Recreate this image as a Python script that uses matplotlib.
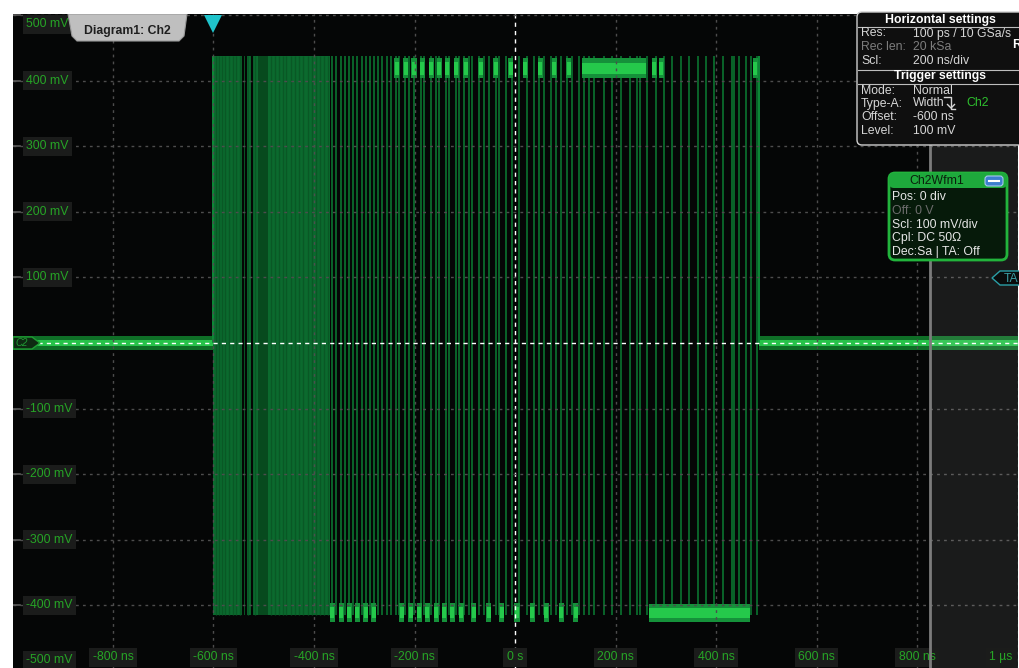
import matplotlib
matplotlib.use('Agg')
import matplotlib.pyplot as plt
from matplotlib.patches import FancyBboxPatch, Polygon
from matplotlib.transforms import Affine2D
from matplotlib.lines import Line2D

# ---------------- data ----------------
time_ticks_ns = [-800, -600, -400, -200, 0, 200, 400, 600, 800, 1000]
time_tick_labels = ['-800 ns', '-600 ns', '-400 ns', '-200 ns', '0 s',
                    '200 ns', '400 ns', '600 ns', '800 ns', '1 µs']
volt_ticks_mv = [500, 400, 300, 200, 100, 0, -100, -200, -300, -400, -500]
volt_tick_labels = ['500 mV', '400 mV', '300 mV', '200 mV', '100 mV', '',
                    '-100 mV', '-200 mV', '-300 mV', '-400 mV', '-500 mV']

trigger_offset_ns = -600
trigger_level_mv = 100
burst_start_ns = -600
burst_end_ns = 486
high_mv = 437
low_mv = -414
idle_segments_ns = [(-1000, -600), (486, 1000)]

dense_span_ns = (-600, -368)
dense_dark_span_ns = (-511, -492)
dense_gap_ns = [-541, -536, -523]
dense_texture_ns = [-596, -590, -583, -577, -570, -562, -556, -548, -531, -517,
                    -486, -478, -470, -462, -455, -446, -438, -430, -421, -412,
                    -404, -396, -388, -380, -372]

edge_times_ns = [-364, -356, -346, -338, -330, -322, -314, -304, -297, -289,
                 -281, -273, -265, -255, -247, -237, -231, -219, -211, -201,
                 -187, -181, -167, -157, -151, -137, -131, -117, -111, -101,
                 -92, -86, -72, -62, -52, -38, -32, -18, -6, 8, 24, 38, 48, 58,
                 72, 82, 92, 103, 113, 127, 137, 147, 157, 177, 193, 211, 229,
                 243, 249, 263, 281, 297, 312, 330, 346, 364, 380, 396, 414,
                 432, 436, 446, 460, 470, 482]

top_blob_ns = [-235, -217, -201, -185, -167, -151, -135, -117, -98, -68, -38,
               -8, 20, 50, 78, 107, 277, 291, 478]
top_runs_ns = [(133, 261)]
bottom_blob_ns = [-364, -346, -330, -314, -297, -281, -225, -207, -191, -175,
                  -157, -141, -125, -107, -82, -52, -26, 4, 34, 62, 92, 121]
bottom_runs_ns = [(267, 468)]

W, H = 1019, 668

fig = plt.figure(figsize=(W / 100, H / 100), dpi=100)
fig.patch.set_facecolor('white')
ax = fig.add_axes([12.5 / W, 0, 1005 / W, (H - 14) / H])
ax.set_facecolor('#050606')
ax.set_xlim(-1000, 1000)
ax.set_ylim(-495.5, 501.5)
for s in ax.spines.values():
    s.set_visible(False)
ax.set_xticks([])
ax.set_yticks([])

# pixel transform (top-left origin) for decorations
pix = Affine2D().scale(1 / W, -1 / H).translate(0, 1) + fig.transFigure

FONT = 'Liberation Sans'
GREEN_TXT = '#26a526'

# ---------------- waveform ----------------
for a, b in idle_segments_ns:
    ax.fill_between([a, b], -11, 10, color='#0f6f27', lw=0, zorder=2)
    ax.fill_between([a, b], -5, 5, color='#27c24a', lw=0, zorder=2)

ax.fill_between(dense_span_ns, low_mv, high_mv, color='#0b6a2e', lw=0, zorder=2)
ax.fill_between(dense_dark_span_ns, low_mv, high_mv, color='#074a1e', lw=0, zorder=2)
ax.vlines(dense_gap_ns, low_mv, high_mv, colors='#040504', lw=1.6, zorder=2)
ax.vlines(dense_texture_ns, low_mv, high_mv, colors='#095825', lw=1.0, zorder=2)

ax.vlines([burst_start_ns], 0, high_mv, colors='#0d8a38', lw=1.4, zorder=3)
ax.vlines([burst_end_ns], 0, high_mv, colors='#0d8a38', lw=1.4, zorder=3)

ax.vlines(edge_times_ns, low_mv, high_mv, colors='#0b7d33', lw=1.1, zorder=3)

# bright plateaus (halo + core)
ax.bar(top_blob_ns, 30, bottom=404, width=10, color='#15913a', lw=0, zorder=4)
ax.bar(top_blob_ns, 20, bottom=409, width=7, color='#25c94b', lw=0, zorder=4)
ax.bar(bottom_blob_ns, 28, bottom=-425, width=10, color='#15913a', lw=0, zorder=4)
ax.bar(bottom_blob_ns, 18, bottom=-420, width=7, color='#25c94b', lw=0, zorder=4)
for a, b in top_runs_ns:
    ax.fill_between([a, b], 404, 434, color='#15913a', lw=0, zorder=4)
    ax.fill_between([a, b], 410, 427, color='#25c94b', lw=0, zorder=4)
for a, b in bottom_runs_ns:
    ax.fill_between([a, b], -425, -398, color='#15913a', lw=0, zorder=4)
    ax.fill_between([a, b], -419, -404, color='#25c94b', lw=0, zorder=4)

# ---------------- grid ----------------
for tt in time_ticks_ns:
    if tt == 0:
        ax.axvline(tt, color='white', lw=1.0, ls=(0, (3, 3)), zorder=6)
    else:
        ax.axvline(tt, color='#4d4d4d', lw=1.0, ls=(0, (2, 3)), zorder=6)
for v in volt_ticks_mv:
    if v == 0:
        ax.axhline(v, color='white', lw=1.0, ls=(0, (3, 3)), zorder=6)
    else:
        ax.axhline(v, color='#4d4d4d', lw=1.0, ls=(0, (2, 3)), zorder=6)
        ax.plot([-1000, -985], [v, v], color='#5a5a5a', lw=1.2, zorder=6)

ax.axvspan(826, 1000, color='white', alpha=0.085, lw=0, zorder=7)

# ---------------- tick labels ----------------
box = dict(boxstyle='square,pad=0.28', fc='#1b1c1b', ec='none')
ytr = ax.get_yaxis_transform()
for v, lab in zip(volt_ticks_mv, volt_tick_labels):
    if not lab:
        continue
    yv = min(max(v, -484), 486)
    ax.text(0.0135, yv, lab, transform=ytr, ha='left', va='center',
            fontsize=8.8, family=FONT, color=GREEN_TXT, bbox=box, zorder=8)
xtr = ax.get_xaxis_transform()
for tt, lab in zip(time_ticks_ns, time_tick_labels):
    if tt == 1000:
        ax.text(0.995, 0.0165, lab, transform=ax.transAxes, ha='right', va='center',
                fontsize=8.8, family=FONT, color=GREEN_TXT, bbox=box, zorder=8)
    else:
        ax.text(tt, 0.0165, lab, transform=xtr, ha='center', va='center',
                fontsize=8.8, family=FONT, color=GREEN_TXT, bbox=box, zorder=8)

ax.axvline(826, color='#7c7c7c', lw=2.0, zorder=9)

# ---------------- decorations ----------------
ax.plot([trigger_offset_ns], [0.985], marker='v', markersize=13, color='#1fc3cb',
        markeredgewidth=0, transform=xtr, zorder=10, clip_on=False)

tab = Polygon([(68, 14), (187, 14), (184, 36), (179, 41), (77, 41), (72, 36)],
              closed=True, fc='#bfbfbf', ec='#9a9a9a', lw=0.8, transform=pix, zorder=10)
ax.add_patch(tab)
ax.text(127, 31, 'Diagram1: Ch2', transform=pix, ha='center', va='center',
        fontsize=8.8, family=FONT, weight='bold', color='#1e1e1e', zorder=11)

c2 = Polygon([(13, 337), (32, 337), (40, 343), (32, 349), (13, 349)], closed=True,
             fc='#0e2a12', ec='#1f9c33', lw=1.0, transform=pix, zorder=10)
ax.add_patch(c2)
ax.text(22, 343.5, 'C2', transform=pix, ha='center', va='center', fontsize=7,
        family=FONT, style='italic', color='#1f9c33', zorder=11)

ta = Polygon([(1021, 271), (1000, 271), (992, 278), (1000, 285), (1021, 285)],
             closed=True, fc='#0a0c0c', ec='#2a9ea6', lw=1.0, transform=pix, zorder=10,
             clip_on=False)
ax.add_patch(ta)
ax.text(1011, 278.5, 'TA', transform=pix, ha='center', va='center', fontsize=8.8,
        family=FONT, color='#3a9ca3', zorder=11, clip_on=False)

hb = FancyBboxPatch((857, 12), 175, 133, boxstyle='round,pad=0,rounding_size=5',
                    fc='#0f0f0f', ec='#cfcfcf', lw=1.0, transform=pix, zorder=12,
                    clip_on=False)
ax.add_patch(hb)
for yy in (26.5, 69.5, 83.5):
    ax.add_line(Line2D([858, 1019], [yy, yy], color='#bdbdbd', lw=0.8, transform=pix,
                       zorder=13, clip_on=False))


def t(x, y, s, **kw):
    kw.setdefault('fontsize', 8.8)
    kw.setdefault('family', FONT)
    kw.setdefault('color', '#d6d6d6')
    kw.setdefault('va', 'center')
    ax.text(x, y, s, transform=pix, zorder=14, clip_on=False, **kw)


t(940, 19.5, 'Horizontal settings', ha='center', weight='bold', color='white')
t(861, 33.5, 'Res:')
t(913, 33.5, '100 ps / 10 GSa/s')
t(861, 47.5, 'Rec len:', color='#7d7d7d')
t(913, 47.5, '20 kSa', color='#7d7d7d')
t(1012, 45.5, 'R', weight='bold', color='white')
t(861, 61.5, 'Scl:')
t(913, 61.5, '200 ns/div')
t(940, 76.5, 'Trigger settings', ha='center', weight='bold', color='white')
t(861, 90.5, 'Mode:')
t(913, 90.5, 'Normal')
t(861, 103.5, 'Type-A:')
t(913, 103.5, 'Width')
ax.add_line(Line2D([944, 951, 951, 955], [97, 97, 109, 109], color='#d6d6d6', lw=1.0,
                   transform=pix, zorder=14, clip_on=False))
ax.add_line(Line2D([947.5, 951, 954.5], [104.5, 108, 104.5], color='#d6d6d6', lw=1.0,
                   transform=pix, zorder=14, clip_on=False))
t(966, 103.5, 'Ch2', color='#2ec02e')
t(861, 117.5, 'Offset:')
t(913, 117.5, '-600 ns')
t(861, 131.5, 'Level:')
t(913, 131.5, '100 mV')

wb = FancyBboxPatch((889, 173), 118, 87, boxstyle='round,pad=0,rounding_size=6',
                    fc='#061a0a', ec='#22b43c', lw=2.0, transform=pix, zorder=12)
ax.add_patch(wb)
hd = FancyBboxPatch((889, 173), 118, 15, boxstyle='round,pad=0,rounding_size=5',
                    fc='#1ea93c', ec='none', transform=pix, zorder=12.5)
ax.add_patch(hd)
t(937, 181, 'Ch2Wfm1', ha='center', color='#0a1f0c')
btn = FancyBboxPatch((985, 176), 18, 10, boxstyle='round,pad=0,rounding_size=3',
                     fc='#3d7fcf', ec='#a8c8ee', lw=0.8, transform=pix, zorder=13)
ax.add_patch(btn)
ax.add_line(Line2D([989, 999], [181, 181], color='white', lw=1.5, transform=pix, zorder=14))
t(892, 197.5, 'Pos: 0 div', color='#e6e6e6')
t(892, 211.5, 'Off: 0 V', color='#6d6d6d')
t(892, 225.5, 'Scl: 100 mV/div', color='#e6e6e6')
t(892, 238.5, 'Cpl: DC 50Ω', color='#e6e6e6')
t(892, 252.5, 'Dec:Sa | TA: Off', color='#e6e6e6')

fig.savefig('out.png', dpi=100, facecolor='white')
